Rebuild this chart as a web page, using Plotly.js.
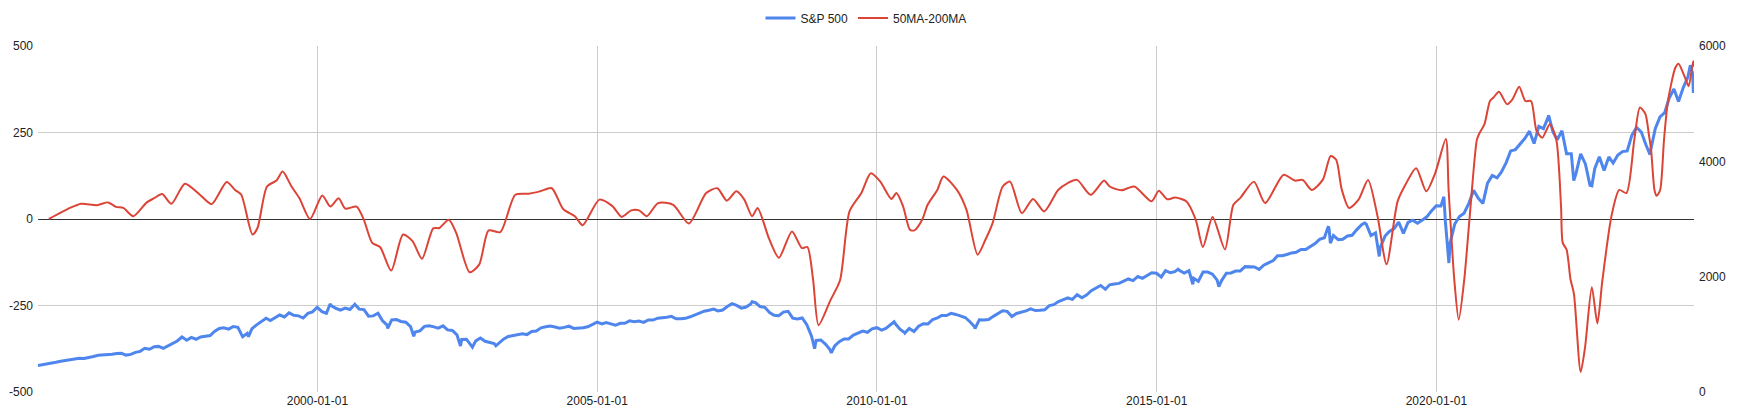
<!DOCTYPE html>
<html>
<head>
<meta charset="utf-8">
<script src="https://cdn.plot.ly/plotly-3.0.1.min.js"></script>
<style>
  html, body { margin: 0; padding: 0; background: #fff; }
  #chart { width: 1738px; height: 417px; }
</style>
</head>
<body>
<div id="chart"></div>
<script>
// ---- Series names ----
const seriesNames = ["S&P 500", "50MA-200MA"];

// ---- S&P 500 monthly closes, Jan 1995 .. Jul 2024 (month-end) ----
const spxStartYear = 1995;
const spxMonthly = [
  470, 487, 501, 515, 533, 545, 562, 562, 584, 582, 605, 616,          // 1995
  636, 640, 646, 654, 669, 671, 640, 652, 687, 705, 757, 741,          // 1996
  786, 791, 757, 801, 848, 885, 954, 899, 947, 915, 955, 970,          // 1997
  980, 1049, 1102, 1112, 1091, 1134, 1121, 957, 1017, 1099, 1164, 1229, // 1998
  1280, 1238, 1286, 1335, 1302, 1373, 1329, 1320, 1283, 1363, 1389, 1469, // 1999
  1394, 1366, 1499, 1452, 1421, 1455, 1431, 1518, 1437, 1429, 1315, 1320, // 2000
  1366, 1240, 1160, 1249, 1256, 1224, 1211, 1134, 1041, 1060, 1139, 1148, // 2001
  1130, 1107, 1147, 1077, 1067, 990, 912, 916, 815, 886, 936, 880,     // 2002
  856, 841, 848, 917, 964, 975, 990, 1008, 996, 1051, 1058, 1112,      // 2003
  1131, 1145, 1126, 1107, 1121, 1141, 1102, 1104, 1115, 1130, 1174, 1212, // 2004
  1181, 1204, 1181, 1157, 1192, 1191, 1234, 1220, 1229, 1207, 1249, 1248, // 2005
  1280, 1281, 1295, 1311, 1270, 1270, 1277, 1304, 1336, 1378, 1401, 1418, // 2006
  1438, 1407, 1421, 1482, 1531, 1503, 1455, 1474, 1527, 1549, 1481, 1468, // 2007
  1379, 1331, 1323, 1386, 1400, 1280, 1267, 1283, 1166, 969, 896, 903, // 2008
  826, 735, 798, 873, 919, 919, 987, 1021, 1057, 1036, 1096, 1115,     // 2009
  1074, 1104, 1169, 1187, 1089, 1031, 1102, 1049, 1141, 1183, 1181, 1258, // 2010
  1286, 1327, 1326, 1364, 1345, 1321, 1292, 1219, 1131, 1253, 1247, 1258, // 2011
  1312, 1366, 1408, 1398, 1310, 1362, 1379, 1407, 1441, 1412, 1416, 1426, // 2012
  1498, 1515, 1569, 1598, 1631, 1606, 1686, 1633, 1682, 1757, 1806, 1848, // 2013
  1783, 1859, 1872, 1884, 1924, 1960, 1931, 2003, 1972, 2018, 2068, 2059, // 2014
  1995, 2105, 2068, 2086, 2107, 2063, 2104, 1972, 1920, 2079, 2080, 2044, // 2015
  1940, 1932, 2060, 2065, 2097, 2099, 2174, 2171, 2168, 2126, 2199, 2239, // 2016
  2279, 2364, 2363, 2384, 2412, 2423, 2470, 2472, 2519, 2575, 2648, 2674, // 2017
  2824, 2714, 2641, 2648, 2705, 2718, 2816, 2902, 2914, 2712, 2760, 2507, // 2018
  2704, 2784, 2834, 2946, 2752, 2942, 2980, 2926, 2977, 3038, 3141, 3231, // 2019
  3226, 2954, 2585, 2912, 3044, 3100, 3271, 3500, 3363, 3270, 3622, 3756, // 2020
  3714, 3811, 3973, 4181, 4204, 4298, 4395, 4523, 4308, 4605, 4567, 4766, // 2021
  4516, 4374, 4530, 4132, 4132, 3785, 4130, 3955, 3586, 3872, 4080, 3840, // 2022
  4077, 3970, 4109, 4169, 4180, 4450, 4589, 4508, 4288, 4194, 4568, 4770, // 2023
  4846, 5096, 5254, 5036, 5278, 5460, 5522                              // 2024
];

// ---- S&P 500 intra-month highs / lows read from the spikes ----
const spxExtraDates = [
  "1995-01-03", "1998-10-08", "2000-03-24", "2000-09-01", "2001-04-04", "2001-09-21",
  "2002-07-23", "2002-10-09", "2003-03-11", "2007-10-09", "2008-11-20", "2009-03-09",
  "2010-04-23", "2010-07-02", "2011-10-03", "2015-05-21", "2015-08-25", "2016-02-11",
  "2018-01-26", "2018-02-08", "2018-09-20", "2018-12-24", "2020-02-19", "2020-03-23",
  "2022-01-03", "2022-06-16", "2022-10-12", "2023-10-27", "2024-07-16", "2024-08-05",
  "2024-08-09"
];
const spxExtraValues = [
  459, 959, 1527, 1521, 1103, 966,
  797, 777, 800, 1565, 752, 677,
  1217, 1022, 1099, 2131, 1868, 1829,
  2873, 2581, 2930, 2351, 3386, 2237,
  4797, 3667, 3577, 4117, 5667, 5186,
  5344
];

// ---- 50-day MA minus 200-day MA ----
const maDates = [
  "1995-03-15","1995-07-31","1995-10-12","1996-01-23","1996-04-05","1996-05-26","1996-07-13","1996-09-16",
  "1996-12-13","1997-01-30","1997-03-24","1997-05-23","1997-08-19","1997-11-25","1998-02-10","1998-05-19",
  "1998-07-13","1998-08-22","1998-11-03","1998-12-06","1999-02-06","1999-04-09","1999-05-19","1999-07-16",
  "1999-09-06","1999-11-14","2000-02-02","2000-03-25","2000-05-19","2000-07-01","2000-09-13","2000-10-30",
  "2000-12-24","2001-02-13","2001-04-27","2001-07-13","2001-09-13","2001-11-14","2002-01-26","2002-03-07",
  "2002-05-08","2002-06-25","2002-09-21","2002-11-22","2003-01-23","2003-04-09","2003-07-16","2003-10-12",
  "2003-12-24","2004-03-10","2004-05-23","2004-08-08","2004-09-28","2005-01-15","2005-04-08","2005-06-10",
  "2005-08-11","2005-10-01","2005-11-21","2006-02-02","2006-05-12","2006-08-22","2006-12-13","2007-02-24",
  "2007-04-27","2007-06-28","2007-08-19","2007-10-09","2007-11-14","2008-01-26","2008-04-01","2008-06-25",
  "2008-08-29","2008-10-04","2008-11-10","2008-12-16","2009-03-03","2009-05-05","2009-07-06","2009-09-21",
  "2009-11-22","2010-01-23","2010-04-05","2010-05-08","2010-06-21","2010-08-04","2010-09-02","2010-10-23",
  "2010-11-28","2011-01-30","2011-03-11","2011-06-07","2011-08-08","2011-10-20","2011-12-10","2012-01-26",
  "2012-04-01","2012-05-19","2012-08-04","2012-10-16","2012-12-28","2013-03-29","2013-05-31","2013-07-31",
  "2013-10-27","2014-01-23","2014-02-28","2014-05-16","2014-08-08","2014-11-29","2015-01-15","2015-03-11",
  "2015-05-01","2015-07-13","2015-09-13","2015-10-30","2016-01-01","2016-03-22","2016-05-16","2016-07-02",
  "2016-09-27","2016-12-09","2017-04-09","2017-06-21","2017-08-11","2017-10-09","2017-12-20","2018-02-10",
  "2018-03-18","2018-04-23","2018-06-10","2018-08-11","2018-10-12","2018-12-13","2019-02-10","2019-04-23",
  "2019-06-13","2019-08-22","2019-10-27","2019-12-24","2020-03-03","2020-03-21","2020-04-27","2020-05-26",
  "2020-07-01","2020-08-04","2020-09-21","2020-10-05","2020-11-10","2020-12-16","2021-01-08","2021-02-13",
  "2021-04-06","2021-05-12","2021-06-25","2021-08-04","2021-09-10","2021-10-16","2021-11-22","2022-01-11",
  "2022-02-22","2022-03-25","2022-04-05","2022-04-30","2022-05-26","2022-06-17","2022-07-31","2022-08-29",
  "2022-10-12","2022-11-17","2022-12-20","2023-02-17","2023-04-09","2023-05-26","2023-07-16","2023-08-22",
  "2023-09-27","2023-10-19","2023-11-03","2023-11-25","2023-12-09","2024-01-01","2024-01-26","2024-02-21",
  "2024-04-09","2024-04-30","2024-06-10","2024-07-05","2024-08-04","2024-08-09"
];
const maValues = [
  0, 32, 44, 40, 48, 35, 32, 8,
  48, 60, 72, 44, 102, 70, 43, 107,
  84, 70, -45, -26, 94, 111, 137, 94,
  60, 0, 68, 36, 60, 30, 36, -2,
  -69, -81, -149, -45, -64, -115, -27, -26,
  -2, -40, -154, -132, -33, -38, 70, 73,
  80, 89, 29, 8, -18, 56, 38, 6,
  25, 25, 8, 46, 41, -13, 75, 89,
  53, 80, 56, 8, 32, -55, -112, -36,
  -84, -81, -175, -307, -235, -177, 22, 75,
  132, 108, 58, 75, 36, -31, -33, -2,
  41, 84, 123, 84, 27, -103, -60, -12,
  94, 108, 17, 58, 22, 84, 104, 113,
  70, 111, 94, 83, 94, 51, 82, 57,
  62, 51, -2, -81, 6, -88, 41, 62,
  108, 46, 128, 111, 113, 84, 113, 182,
  171, 86, 32, 56, 113, 8, -131, 51,
  99, 147, 80, 132, 231, 84, -175, -291,
  -176, -2, 228, 245, 274, 341, 351, 368,
  332, 346, 382, 341, 341, 255, 235, 274,
  229, 36, -69, -88, -175, -216, -442, -370,
  -197, -302, -177, 8, 84, 75, 228, 322,
  303, 245, 200, 84, 67, 84, 228, 341,
  437, 449, 410, 384, 456, 440
];

// ---- Axis ticks ----
const leftTicks = [-500, -250, 0, 250, 500];
const rightTicks = [0, 2000, 4000, 6000];
const dateTicks = ["2000-01-01", "2005-01-01", "2010-01-01", "2015-01-01", "2020-01-01"];
const xRange = ["1995-01-03", "2024-08-09"];

// ---- Build S&P series (month-end dates + extra points), sorted ----
function pad(n) { return (n < 10 ? "0" : "") + n; }
const spxPoints = [];
spxMonthly.forEach(function (v, i) {
  const y = spxStartYear + Math.floor(i / 12);
  const m = i % 12;
  const d = new Date(Date.UTC(y, m + 1, 0));
  spxPoints.push([d.getUTCFullYear() + "-" + pad(d.getUTCMonth() + 1) + "-" + pad(d.getUTCDate()), v]);
});
spxExtraDates.forEach(function (d, i) { spxPoints.push([d, spxExtraValues[i]]); });
spxPoints.sort(function (a, b) { return a[0] < b[0] ? -1 : a[0] > b[0] ? 1 : 0; });

const font = "Arial, 'Liberation Sans', sans-serif";

const traces = [
  {
    x: spxPoints.map(p => p[0]),
    y: spxPoints.map(p => p[1]),
    name: seriesNames[0],
    type: "scatter",
    mode: "lines",
    yaxis: "y",
    line: { color: "#4f86ee", width: 3 },
    hoverinfo: "skip"
  },
  {
    x: maDates,
    y: maValues,
    name: seriesNames[1],
    type: "scatter",
    mode: "lines",
    yaxis: "y2",
    line: { color: "#db4437", width: 2, shape: "spline", smoothing: 0.7 },
    hoverinfo: "skip"
  }
];

const layout = {
  width: 1738,
  height: 417,
  margin: { l: 38, r: 44, t: 46, b: 25, pad: 0, autoexpand: false },
  paper_bgcolor: "#ffffff",
  plot_bgcolor: "#ffffff",
  font: { family: font, size: 12, color: "#222222" },
  showlegend: true,
  legend: {
    orientation: "h",
    x: 0.5,
    xanchor: "center",
    y: 1.081,
    yanchor: "middle",
    font: { family: font, size: 12, color: "#222222" },
    bgcolor: "rgba(0,0,0,0)",
    itemwidth: 30,
    traceorder: "normal"
  },
  xaxis: {
    type: "date",
    range: xRange,
    tickmode: "array",
    tickvals: dateTicks,
    ticktext: dateTicks,
    showgrid: true,
    gridcolor: "#cccccc",
    gridwidth: 1,
    zeroline: false,
    showline: false,
    ticks: "",
    tickfont: { family: font, size: 12, color: "#222222" },
    automargin: false
  },
  yaxis: {
    side: "right",
    range: [0, 6000],
    tickmode: "array",
    tickvals: rightTicks,
    ticktext: rightTicks.map(String),
    showgrid: false,
    zeroline: false,
    showline: false,
    ticks: "",
    ticklabelstandoff: 4,
    tickfont: { family: font, size: 12, color: "#222222" },
    automargin: false
  },
  yaxis2: {
    overlaying: "y",
    side: "left",
    range: [-500, 500],
    tickmode: "array",
    tickvals: leftTicks,
    ticktext: leftTicks.map(String),
    showgrid: true,
    gridcolor: "#cccccc",
    gridwidth: 1,
    zeroline: true,
    zerolinecolor: "#333333",
    zerolinewidth: 1,
    showline: false,
    ticks: "",
    ticklabelstandoff: 4,
    tickfont: { family: font, size: 12, color: "#222222" },
    automargin: false
  }
};

Plotly.newPlot("chart", traces, layout, { staticPlot: true, displayModeBar: false });
</script>
</body>
</html>
